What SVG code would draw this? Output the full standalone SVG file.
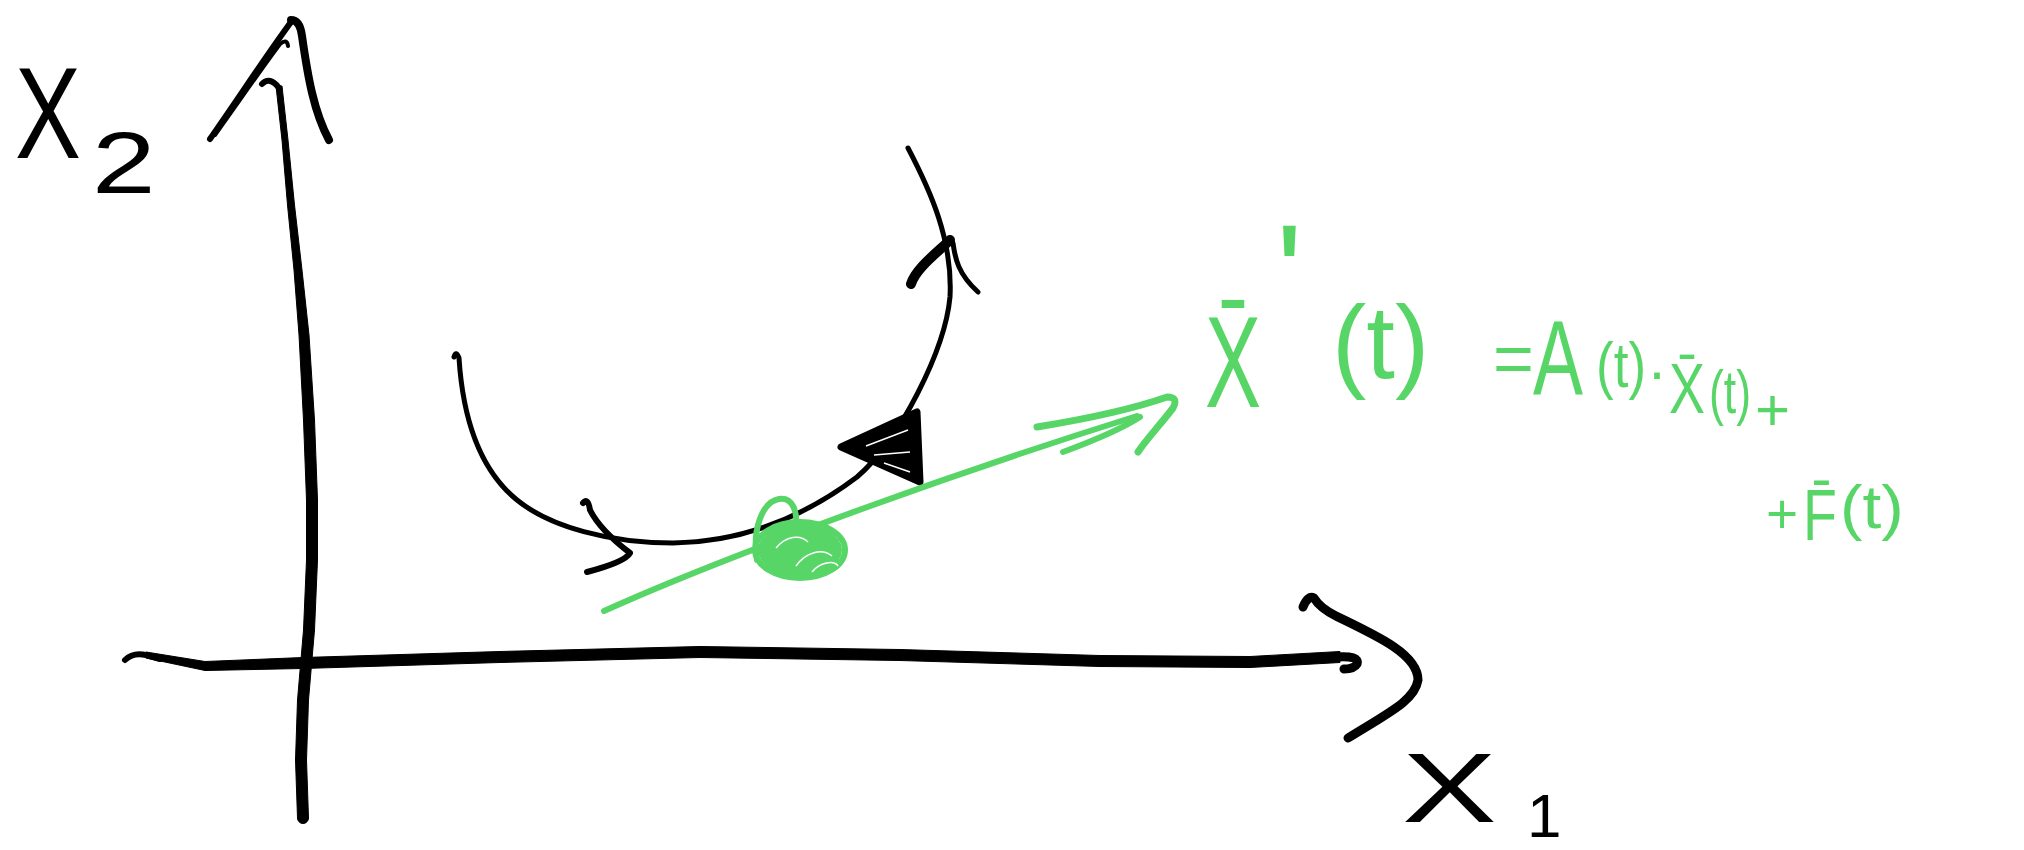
<svg xmlns="http://www.w3.org/2000/svg" width="2024" height="850" viewBox="0 0 2024 850">
<style>
.k{fill:none;stroke:#000;stroke-linecap:round;stroke-linejoin:round}
.kf{fill:#000;stroke:#000;stroke-width:1;stroke-linejoin:round}
.g{fill:none;stroke:#57d667;stroke-linecap:round;stroke-linejoin:round}
.lb{font-family:"Liberation Sans",Arial,sans-serif;fill:#000}
.eq{font-family:"Liberation Sans",Arial,sans-serif;fill:#57d667}
</style>
<rect width="2024" height="850" fill="#fff"/>
<g id="axes">
  <g id="y-axis">
    <path class="k" stroke-width="6" d="M262,84 Q270,76 279,88"/>
    <path class="kf" d="M276,86 L282,140 L287.5,205 L294,270 L299,335 L303.5,420 L306.5,500 L306.5,560 L303.5,630 L297.5,700 L295.5,760 L297.5,818 A5.5,5.5 0 0 0 308.5,818 L306.5,760 L308.5,700 L314.5,630 L317.5,560 L317.5,500 L314.5,420 L309,335 L302,270 L294.5,205 L288,140 L282,86 Z"/>
    <path class="k" stroke-width="6" d="M210,139 C240,96 266,56 291,22"/>
    <path class="k" stroke-width="4" d="M215,135 C240,100 262,68 280,44 Q287,38 288,46"/>
    <path class="k" stroke-width="8" d="M291,20 Q300,20 302,36 C308,78 314,112 329,140"/>
  </g>
  <g id="x-axis">
    <path class="k" stroke-width="6" d="M125,660 Q133,652 146,655 Q153,657 160,659"/>
    <path class="kf" d="M146,652 L205,661.5 L303,657.5 L500,651.5 L700,646.5 L900,649.5 L1100,655.5 L1250,656.5 L1340,651.5 L1340,662.5 L1250,667.5 L1100,666.5 L900,660.5 L700,657.5 L500,662.5 L303,668.5 L205,670.5 L146,658 Z"/>
    <path class="k" stroke-width="9" d="M1335,657 Q1360,655 1357,664 Q1354,669 1344,669"/>
    <path class="k" stroke-width="9" d="M1303,607 Q1308,595 1314,598 Q1320,608 1336,616 C1380,637 1418,655 1418,680 C1415,700 1390,712 1348,738"/>
  </g>
</g>
<g id="label-x2">
  <text class="lb" font-size="130" transform="translate(15,158) scale(0.76,1)">X</text>
  <text class="lb" font-size="88" transform="translate(92,193) scale(1.3,1)">2</text>
</g>
<g id="label-x1">
  <text class="lb" font-size="98" transform="translate(1402,822) scale(1.45,1)">X</text>
  <text class="lb" x="1527" y="837" font-size="62">1</text>
</g>
<g id="trajectory">
  <path class="k" stroke-width="5" d="M454,357 Q456,350 459,358 C463,420 480,470 517,500 C550,527 610,543 673,543 C740,542 800,520 857,477 C900,440 945,350 950,297 C953,240 930,190 908,148"/>
  <path class="k" stroke-width="6" d="M583,503 Q588,497 590,510 Q600,530 630,553 Q625,562 587,572"/>
  <polygon points="841,447 917,412 920,482" fill="#000" stroke="#000" stroke-width="7" stroke-linejoin="round"/>
  <path fill="none" stroke="#fff" stroke-width="1.5" d="M866,446 L908,430 M874,455 L910,452 M884,463 L910,472"/>
  <path class="k" stroke-width="10" d="M950,240 C938,252 916,268 911,284"/>
  <path class="k" stroke-width="5" d="M953,243 C955,258 958,274 978,292"/>
</g>
<g id="tangent">
  <path class="g" stroke-width="6" d="M604,611 C690,572 900,490 1137,416"/>
  <path class="g" stroke-width="7" d="M1037,427 C1080,420 1130,410 1167,397 Q1179,397 1173,408 C1160,425 1146,440 1138,452"/>
  <path class="g" stroke-width="6" d="M1063,452 C1090,442 1120,430 1140,417"/>
</g>
<g id="point">
  <ellipse cx="800" cy="550" rx="42" ry="26" fill="#57d667"/>
  <path class="g" stroke-width="6" d="M757,560 C752,530 762,502 779,499 C792,497 798,510 796,530"/>
  <ellipse class="g" stroke-width="6" cx="800" cy="550" rx="45" ry="28"/>
  <path fill="none" stroke="#fff" stroke-width="1.5" d="M776,548 C786,536 800,534 808,542 M796,566 C806,552 822,548 832,556 M812,572 C820,562 834,560 838,566"/>
</g>
<g id="equation">
  <text class="eq" font-size="130" transform="translate(1205,407) scale(0.646,1)">X̄</text>
  <text class="eq" x="1276" y="322" font-size="140">'</text>
  <text class="eq" x="1332" y="378" font-size="103">(t)</text>
  <text class="eq" x="1493" y="383" font-size="70">=</text>
  <text class="eq" font-size="105" transform="translate(1533,394) scale(0.714,1)">A</text>
  <text class="eq" font-size="62" transform="translate(1596,387) scale(0.855,1)">(t)</text>
  <text class="eq" x="1647" y="392" font-size="60">·</text>
  <text class="eq" font-size="70" transform="translate(1669,413) scale(0.77,1)">X̄</text>
  <text class="eq" font-size="62" transform="translate(1709,413) scale(0.72,1)">(t)</text>
  <text class="eq" x="1755" y="430" font-size="60">+</text>
  <text class="eq" x="1766" y="533" font-size="55">+</text>
  <text class="eq" font-size="72" transform="translate(1803,540) scale(0.77,1)">F̄</text>
  <text class="eq" font-size="62" transform="translate(1840,528) scale(1.09,1)">(t)</text>
</g>
</svg>
